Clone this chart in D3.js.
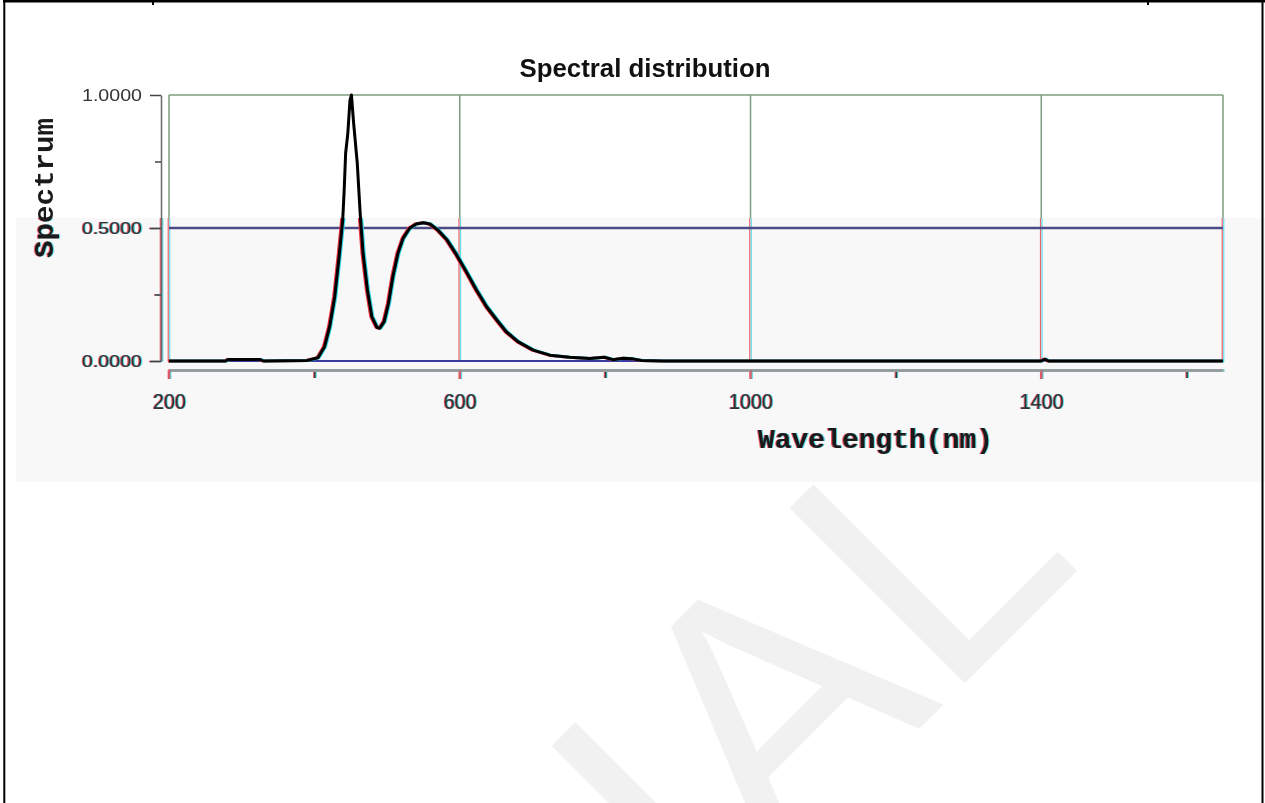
<!DOCTYPE html>
<html>
<head>
<meta charset="utf-8">
<script src="https://cdn.jsdelivr.net/npm/d3@7"></script>
<style>
  body { margin: 0; background: #fff; }
  svg { display: block; }
</style>
</head>
<body>
<svg id="chart"></svg>
<script>
/* spectrum values */
const wavelength = [200, 278, 282, 325, 330, 390, 405, 414, 421, 428, 434, 439, 441, 443, 446, 449, 451, 454, 459, 463,
  467, 473, 479, 486, 490, 496, 502, 508, 515, 522, 531, 540, 550, 559, 570, 582, 596, 609, 623, 637,
  651, 664, 680, 701, 724, 751, 779, 799, 811, 825, 838, 850, 880, 1400, 1405, 1410, 1650];
const spectrum = [0, 0, 0.006, 0.006, 0, 0.002, 0.012, 0.054, 0.129, 0.242, 0.392, 0.53, 0.643, 0.781, 0.856, 0.981, 1.0, 0.894, 0.744, 0.555,
  0.405, 0.267, 0.167, 0.127, 0.123, 0.148, 0.217, 0.317, 0.405, 0.461, 0.499, 0.515, 0.52, 0.515, 0.492, 0.457, 0.398, 0.336, 0.267, 0.204,
  0.154, 0.11, 0.073, 0.041, 0.022, 0.014, 0.009, 0.014, 0.005, 0.01, 0.008, 0.002, 0, 0, 0.007, 0, 0];

const xDomain = [200, 1650];
const yDomain = [0, 1];
const xMajorTicks = [200, 600, 1000, 1400];
const xMinorTicks = [400, 800, 1200, 1600];
const yMajorTicks = [0, 0.5, 1];
const yMinorTicks = [0.25, 0.75];
const gridX = [200, 600, 1000, 1400, 1650];

const titleText = "Spectral distribution";
const xTitle = "Wavelength(nm)";
const yTitle = "Spectrum";
const watermark = "TRIAL";

const W = 1265, H = 803;
const split = 218;   // lower half of the scan is grey and colour shifted
const sans = "Liberation Sans, Arial, sans-serif";
const mono = "'Courier New', 'Liberation Mono', monospace";
const fringes = [{ dx: -1.1, color: "#e8303c" }, { dx: 1.1, color: "#30d4e4" }];

const svg = d3.select("#chart").attr("width", W).attr("height", H);

const x = d3.scaleLinear().domain(xDomain).range([169, 1223]);
const y = d3.scaleLinear().domain(yDomain).range([361, 95]);

const data = wavelength.map((w, i) => ({ w: w, v: spectrum[i] }));

svg.append("defs").append("clipPath").attr("id", "lower")
  .append("rect").attr("x", 0).attr("y", split).attr("width", W).attr("height", 482 - split);

/* watermark on the page, hidden under the chart image */
svg.append("text")
  .attr("transform", "translate(1085.5,562.5) rotate(-45)")
  .attr("text-anchor", "end")
  .attr("font-family", sans)
  .attr("font-size", 360)
  .attr("fill", "#f1f1f1")
  .text(watermark);

/* chart image background */
svg.append("rect").attr("x", 6).attr("y", 3).attr("width", 1256).attr("height", 479).attr("fill", "#fff");
svg.append("rect").attr("x", 16).attr("y", split).attr("width", W - 16).attr("height", 482 - split).attr("fill", "#f8f8f8");

/* grid */
const grid = svg.append("g");
grid.append("line")
  .attr("x1", x(xDomain[0])).attr("x2", x(xDomain[1]))
  .attr("y1", y(1)).attr("y2", y(1))
  .attr("stroke", "#7e9c7e").attr("stroke-width", 1.5);
grid.selectAll(".gu").data(gridX).join("line")
  .attr("class", "gu")
  .attr("x1", d => x(d)).attr("x2", d => x(d))
  .attr("y1", y(1)).attr("y2", split)
  .attr("stroke", "#7e9c7e").attr("stroke-width", 1.5);
fringes.forEach((f, i) => {
  grid.selectAll(".gl" + i).data(gridX).join("line")
    .attr("class", "gl" + i)
    .attr("x1", d => x(d) + f.dx * 0.7).attr("x2", d => x(d) + f.dx * 0.7)
    .attr("y1", split).attr("y2", y(0))
    .attr("stroke", f.color).attr("stroke-opacity", 0.75).attr("stroke-width", 1.2);
});
grid.append("line")
  .attr("x1", x(xDomain[0])).attr("x2", x(xDomain[1]))
  .attr("y1", y(0.5)).attr("y2", y(0.5))
  .attr("stroke", "#4b4b85").attr("stroke-width", 2.5);
grid.append("line")
  .attr("x1", x(xDomain[0])).attr("x2", x(xDomain[1]))
  .attr("y1", y(0)).attr("y2", y(0))
  .attr("stroke", "#3c3ca0").attr("stroke-width", 2);

/* axes and axis titles, drawn once per colour plane */
function drawAxes(g, col) {
  const yAx = g.append("g").attr("transform", "translate(161,0)")
    .call(d3.axisLeft(y).tickValues(yMajorTicks).tickSize(11).tickSizeOuter(0)
      .tickPadding(8).tickFormat(d3.format(".4f")));
  yAx.select(".domain").attr("stroke", col || "#6a6a6a").attr("stroke-width", 1.5);
  yAx.selectAll(".tick line").attr("stroke", col || "#444").attr("stroke-width", 1.5);
  yAx.selectAll(".tick text")
    .attr("font-family", sans).attr("font-size", 16)
    .attr("fill", col || "#333")
    .attr("textLength", 60).attr("lengthAdjust", "spacingAndGlyphs");

  const yMinor = g.append("g").attr("transform", "translate(161,0)")
    .call(d3.axisLeft(y).tickValues(yMinorTicks).tickSize(6).tickFormat(""));
  yMinor.select(".domain").remove();
  yMinor.selectAll(".tick line").attr("stroke", col || "#444").attr("stroke-width", 1.5);

  const xAx = g.append("g").attr("transform", "translate(0,370)")
    .call(d3.axisBottom(x).tickValues(xMajorTicks).tickSize(9).tickSizeOuter(0)
      .tickPadding(14).tickFormat(d3.format("d")));
  xAx.select(".domain").attr("stroke", col || "#9a9a9a").attr("stroke-width", 2.5);
  xAx.selectAll(".tick line").attr("stroke", col || "#c85a6a").attr("stroke-width", 1.5);
  xAx.selectAll(".tick text")
    .attr("font-family", sans).attr("font-size", 22)
    .attr("fill", col || "#333")
    .attr("textLength", d => String(d).length * 11).attr("lengthAdjust", "spacingAndGlyphs");

  const xMinor = g.append("g").attr("transform", "translate(0,372)")
    .call(d3.axisBottom(x).tickValues(xMinorTicks).tickSize(6).tickFormat(""));
  xMinor.select(".domain").remove();
  xMinor.selectAll(".tick line").attr("stroke", col || "#333").attr("stroke-width", 1.5);

  g.append("text")
    .attr("transform", "translate(53,188) rotate(-90)")
    .attr("text-anchor", "middle")
    .attr("font-family", mono).attr("font-weight", "bold").attr("font-size", 27)
    .attr("fill", col || "#1a1a1a")
    .attr("textLength", 140).attr("lengthAdjust", "spacingAndGlyphs")
    .text(yTitle);

  g.append("text")
    .attr("x", 758).attr("y", 448)
    .attr("font-family", mono).attr("font-weight", "bold").attr("font-size", 27)
    .attr("fill", col || "#1a1a1a")
    .attr("textLength", 235).attr("lengthAdjust", "spacingAndGlyphs")
    .text(xTitle);
}

fringes.forEach(f => {
  drawAxes(svg.append("g").attr("clip-path", "url(#lower)").attr("opacity", 0.8)
    .append("g").attr("transform", `translate(${f.dx},0)`), f.color);
});
drawAxes(svg.append("g"), null);

/* spectrum curve */
const line = d3.line().x(d => x(d.w)).y(d => y(d.v));
fringes.forEach(f => {
  svg.append("g").attr("clip-path", "url(#lower)")
    .append("path").datum(data)
    .attr("transform", `translate(${f.dx},0)`)
    .attr("fill", "none").attr("stroke", f.color).attr("stroke-width", 3)
    .attr("stroke-linejoin", "round")
    .attr("d", line);
});
svg.append("path").datum(data)
  .attr("fill", "none").attr("stroke", "#000").attr("stroke-width", 3)
  .attr("stroke-linejoin", "round")
  .attr("d", line);

/* title */
svg.append("text")
  .attr("x", 645).attr("y", 77)
  .attr("text-anchor", "middle")
  .attr("font-family", sans).attr("font-weight", "bold").attr("font-size", 25)
  .attr("fill", "#111")
  .attr("textLength", 251).attr("lengthAdjust", "spacingAndGlyphs")
  .text(titleText);

/* page table borders */
const page = svg.append("g").attr("stroke", "#000");
page.append("line").attr("x1", 3).attr("x2", W).attr("y1", 1.25).attr("y2", 1.25).attr("stroke-width", 2.5);
page.append("line").attr("x1", 4.3).attr("x2", 4.3).attr("y1", 0).attr("y2", H).attr("stroke-width", 2);
page.append("line").attr("x1", 1262.5).attr("x2", 1262.5).attr("y1", 0).attr("y2", H).attr("stroke-width", 2);
page.selectAll(".div").data([153, 1148]).join("line")
  .attr("x1", d => d).attr("x2", d => d).attr("y1", 0).attr("y2", 5).attr("stroke-width", 2);
</script>
</body>
</html>
